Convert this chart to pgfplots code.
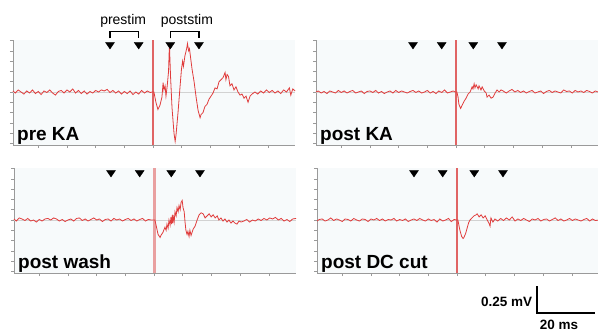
\documentclass[border=0pt]{standalone}
\usepackage{pgfplots}
\pgfplotsset{compat=1.18}
\usepackage{fontspec}
\setmainfont{Liberation Sans}
\definecolor{bgc}{HTML}{F7FAFB}
\definecolor{trc}{HTML}{E03C3C}
\definecolor{artc}{HTML}{E06464}
\definecolor{artp}{HTML}{E9A0A0}
\definecolor{axc}{HTML}{9A9A9A}
\tikzset{lab/.style={anchor=base west, inner sep=0pt, font=\fontsize{19}{20}\selectfont\bfseries}}
\pgfplotsset{
  axis base/.style={
    scale only axis, width=282.1pt, height=105pt,
    xmin=-48.8, xmax=49.5, ymin=-0.515, ymax=0.505,
    axis lines*=left, axis line style={draw=axc, line width=0.7pt, -},
    xtick={-40,-30,-20,-10,0,10,20,30,40},
    ytick={-0.5,-0.4,-0.3,-0.2,-0.1,0,0.1,0.2,0.3,0.4,0.5},
    xticklabels={}, yticklabels={},
    tick align=outside, major tick length=3pt,
    tick style={draw=axc, line width=0.6pt},
    axis background/.style={fill=bgc},
    clip=false, anchor=south west,
  },
  tri/.style={only marks, mark=triangle*, mark size=4.3pt,
    mark options={rotate=180, xscale=1.2, fill=black, draw=black}},
  zl/.style={gray!35, line width=0.5pt},
  tr/.style={trc, line width=0.8pt},
}
\begin{document}
\begin{tikzpicture}[x=1pt,y=1pt]
\path[use as bounding box] (0,0) rectangle (598,-333);
% ---------------- pre KA
\begin{axis}[axis base, at={(13pt,-145pt)}]
\addplot[zl] coordinates {(-48.8,0) (49.5,0)};
\addplot[artc, line width=2pt] coordinates {(0,-0.515) (0,0.505)};
\addplot[tr] coordinates {
(-48.8,0.01) (-48,-0.01) (-47,0.02) (-46,0.0) (-45,-0.02) (-44,0.01) (-43,-0.01) (-42,0.02) (-41,-0.015) (-40,0.005)
(-39,-0.025) (-38,0.01) (-37,-0.005) (-36,0.02) (-35,-0.01) (-34,-0.03) (-33,0.005) (-32,0.015) (-31,-0.01) (-30,0.02)
(-29,0.0) (-28,0.03) (-27,-0.01) (-26,0.015) (-25,-0.015) (-24,0.01) (-23,-0.02) (-22,0.005) (-21,-0.01) (-20,0.015)
(-19,0.0) (-18,0.02) (-17,0.01) (-16,0.025) (-15,-0.005) (-14,0.015) (-13,-0.01) (-12,0.01) (-11,-0.02) (-10,0.005)
(-9,-0.015) (-8,0.01) (-7,-0.025) (-6,0.0) (-5,-0.02) (-4,0.015) (-3,-0.01) (-2,0.01) (-1,-0.005) (-0.3,0.0)
(0.3,0.0) (1.0,-0.1) (1.7,-0.17) (2.4,-0.13) (3.1,-0.05) (3.5,0.09) (3.8,0.02) (4.2,0.06) (4.5,-0.04) (4.9,0.05)
(5.4,0.2) (5.7,0.46) (6.1,0.15) (6.6,-0.15) (7.3,-0.4) (7.7,-0.48) (8.0,-0.42) (8.7,-0.2) (9.4,0.05) (9.9,0.22)
(10.3,0.3) (10.6,0.25) (11.1,0.35) (11.7,0.42) (12.0,0.47) (12.4,0.4) (12.7,0.42) (13.1,0.33) (13.6,0.22) (14.3,0.1)
(15.0,-0.05) (15.7,-0.18) (16.4,-0.25) (16.7,-0.22) (17.4,-0.2) (18.1,-0.14) (18.8,-0.12) (19.5,-0.07) (20.2,-0.04) (20.9,-0.01)
(21.6,0.04) (22.3,0.03) (23.0,0.1) (23.7,0.12) (24.4,0.14) (25.1,0.19) (25.4,0.12) (25.8,0.17) (26.3,0.15) (26.8,0.06)
(27.5,0.08) (28.2,0.02) (28.9,0.05) (29.6,0.0) (30.3,-0.03) (31.0,-0.02) (31.7,-0.06) (32.4,-0.04) (33.1,-0.1) (33.8,-0.04)
(34.5,-0.02) (35.5,0.0) (36.5,-0.02) (37.5,0.01) (38.5,-0.01) (39.5,0.02) (40.5,-0.005) (41.5,0.015) (42.5,-0.01) (43.5,0.01)
(44.5,-0.015) (45.5,0.02) (46.5,0.0) (47.5,0.04) (48,-0.03) (48.7,0.03) (49.5,0.01)};
\addplot[tri] coordinates {(-15,0.46) (-5,0.46) (6,0.46) (16,0.46)};
\draw[black, line width=1.4pt] (axis cs:-15,0.52) -- (axis cs:-15,0.59) -- (axis cs:-5,0.59) -- (axis cs:-5,0.52);
\draw[black, line width=1.4pt] (axis cs:6,0.52) -- (axis cs:6,0.59) -- (axis cs:16,0.59) -- (axis cs:16,0.52);
\node[font=\fontsize{14}{14}\selectfont] at (axis cs:-10.4,0.69) {prestim};
\node[font=\fontsize{14}{14}\selectfont] at (axis cs:11.8,0.69) {poststim};
\node[lab] at (rel axis cs:0.014,0.04) {pre KA};
\end{axis}
% ---------------- post KA
\begin{axis}[axis base, at={(316pt,-145pt)}]
\addplot[zl] coordinates {(-48.8,0) (49.5,0)};
\addplot[artc, line width=1.3pt] coordinates {(0,-0.515) (0,0.505)};
\addplot[tr] coordinates {
(-48.8,0.0) (-48,0.01) (-47,-0.01) (-46,0.005) (-45,-0.015) (-44,0.01) (-43,0.0) (-42,-0.01) (-41,0.015) (-40,-0.005)
(-39,0.01) (-38,-0.01) (-37,0.005) (-36,0.015) (-35,-0.01) (-34,0.0) (-33,0.01) (-32,-0.015) (-31,0.005) (-30,0.01)
(-29,-0.005) (-28,0.015) (-27,-0.01) (-26,0.005) (-25,-0.015) (-24,0.0) (-23,0.01) (-22,-0.01) (-21,0.015) (-20,-0.005)
(-19,0.01) (-18,0.0) (-17,-0.01) (-16,0.005) (-15,0.015) (-14,-0.005) (-13,0.01) (-12,-0.01) (-11,0.0) (-10,0.015)
(-9,-0.01) (-8,0.005) (-7,-0.015) (-6,0.01) (-5,-0.005) (-4,0.02) (-3,-0.01) (-2,0.0) (-1,0.01) (-0.3,0.0)
(0.3,0.0) (0.7,-0.05) (1.0,-0.12) (1.6,-0.16) (2.1,-0.13) (2.8,-0.09) (3.5,-0.06) (4.2,-0.02) (4.9,0.0) (5.6,0.05)
(5.9,0.03) (6.3,0.08) (6.6,0.04) (7.0,0.07) (7.7,0.03) (8.0,0.06) (8.7,0.02) (9.1,0.05) (9.8,0.01) (10.5,-0.01)
(10.8,-0.05) (11.5,-0.03) (12.2,-0.06) (12.9,-0.05) (13.6,-0.01) (14.3,0.02) (15.0,0.0) (15.7,0.02) (16.4,0.01)
(17.5,-0.01) (18.5,0.01) (19.5,0.025) (20.5,0.0) (21.5,0.015) (22.5,-0.005) (23.5,0.01) (24.5,-0.01) (25.5,0.005) (26.5,0.015)
(27.5,-0.01) (28.5,0.0) (29.5,0.01) (30.5,-0.015) (31.5,0.005) (32.5,0.015) (33.5,-0.005) (34.5,0.01) (35.5,0.0) (36.5,-0.01)
(37.5,0.02) (38.5,0.005) (39.5,0.01) (40.5,-0.01) (41.5,0.015) (42.5,0.0) (43.5,0.01) (44.5,-0.005) (45.5,0.015) (46.5,0.005)
(47.5,-0.01) (48.5,0.01) (49.5,0.0)};
\addplot[tri] coordinates {(-15,0.46) (-5,0.46) (6,0.46) (16,0.46)};
\node[lab] at (rel axis cs:0.014,0.04) {post KA};
\end{axis}
% ---------------- post wash
\begin{axis}[axis base, at={(14pt,-273pt)}]
\addplot[zl] coordinates {(-48.8,0) (49.5,0)};
\addplot[artp, line width=3pt] coordinates {(0,-0.515) (0,0.505)};
\addplot[tr] coordinates {
(-48.8,0.01) (-48,-0.01) (-47,0.02) (-46,0.01) (-45,-0.005) (-44,0.015) (-43,-0.01) (-42,0.0) (-41,-0.02) (-40,0.005)
(-39,-0.01) (-38,0.01) (-37,0.015) (-36,0.0) (-35,0.02) (-34,0.01) (-33,-0.01) (-32,0.005) (-31,-0.015) (-30,0.0)
(-29,0.01) (-28,-0.01) (-27,0.015) (-26,0.02) (-25,-0.005) (-24,0.01) (-23,-0.01) (-22,0.005) (-21,0.02) (-20,0.0)
(-19,0.01) (-18,-0.015) (-17,0.005) (-16,0.01) (-15,-0.01) (-14,0.015) (-13,0.0) (-12,0.01) (-11,-0.01) (-10,0.005)
(-9,0.015) (-8,-0.005) (-7,0.01) (-6,-0.01) (-5,0.005) (-4,0.015) (-3,-0.01) (-2,0.005) (-1,0.0) (-0.3,0.0)
(0.3,0.0) (0.7,-0.05) (1.4,-0.14) (2.1,-0.17) (2.4,-0.15) (3.1,-0.12) (3.8,-0.07) (4.2,-0.1) (4.5,-0.04) (4.9,-0.08)
(5.2,0.0) (5.6,-0.05) (5.9,0.03) (6.1,-0.04) (6.3,0.02) (6.5,-0.03) (6.6,0.05) (7.0,-0.02) (7.3,0.08) (7.7,0.04)
(8.0,0.12) (8.4,0.08) (8.7,0.14) (9.1,0.1) (9.4,0.17) (9.8,0.19) (10.1,0.12) (10.5,0.08) (10.8,-0.02) (11.1,-0.1)
(11.5,-0.14) (11.8,-0.11) (12.2,-0.16) (12.5,-0.1) (12.9,-0.15) (13.6,-0.09) (14.3,-0.06) (15.0,0.0) (15.7,0.05) (16.4,0.07)
(17.1,0.06) (17.8,0.02) (18.5,0.04) (19.2,0.06) (19.9,0.03) (20.6,0.05) (21.3,0.02) (22.0,0.04) (22.6,0.0) (23.3,0.02)
(24.0,-0.01) (24.7,0.01) (25.4,-0.02) (26.1,0.0) (26.8,-0.03) (27.5,-0.01) (28.2,-0.03) (28.9,-0.04) (29.6,-0.01) (30.3,-0.02)
(31.3,-0.01) (32.3,0.005) (33.3,-0.02) (34.3,0.0) (35.3,-0.01) (36.3,0.01) (37.3,-0.005) (38.3,0.015) (39.3,0.0) (40.3,0.02)
(41.3,0.01) (42.3,0.025) (43.3,0.0) (44.3,0.015) (45.3,-0.01) (46.3,0.005) (47.3,-0.015) (48.3,0.01) (49.5,0.015)};
\addplot[tri] coordinates {(-15,0.46) (-5,0.46) (6,0.46) (16,0.46)};
\node[lab] at (rel axis cs:0.014,0.04) {post wash};
\end{axis}
% ---------------- post DC cut
\begin{axis}[axis base, at={(317pt,-273pt)}]
\addplot[zl] coordinates {(-48.8,0) (49.5,0)};
\addplot[artc, line width=1.3pt] coordinates {(0,-0.515) (0,0.505)};
\addplot[tr] coordinates {
(-48.8,-0.01) (-48,0.005) (-47,0.01) (-46,-0.01) (-45,0.0) (-44,0.02) (-43,-0.005) (-42,0.01) (-41,0.0) (-40,-0.015)
(-39,0.01) (-38,0.005) (-37,-0.01) (-36,0.015) (-35,0.0) (-34,-0.01) (-33,0.01) (-32,0.005) (-31,-0.015) (-30,0.01)
(-29,0.0) (-28,0.015) (-27,-0.005) (-26,0.01) (-25,-0.01) (-24,0.005) (-23,0.0) (-22,0.015) (-21,-0.01) (-20,0.005)
(-19,-0.005) (-18,0.01) (-17,-0.015) (-16,0.0) (-15,0.01) (-14,-0.005) (-13,0.015) (-12,0.0) (-11,-0.01) (-10,0.01)
(-9,-0.005) (-8,0.005) (-7,-0.02) (-6,0.01) (-5,-0.01) (-4,0.0) (-3,0.015) (-2,-0.015) (-1,0.005) (-0.3,0.0)
(0.3,0.0) (0.7,-0.06) (1.0,-0.1) (1.6,-0.16) (2.1,-0.18) (2.4,-0.17) (3.0,-0.13) (3.5,-0.08) (4.0,-0.03) (4.5,0.0)
(5.2,0.02) (5.9,0.04) (6.6,0.05) (7.0,0.06) (7.7,0.03) (8.4,0.05) (9.1,0.02) (9.8,0.04) (10.5,0.0) (11.1,-0.03)
(11.5,-0.06) (11.8,0.02) (12.5,-0.02) (13.2,0.01)
(14.2,-0.01) (15.2,0.015) (16.2,-0.005) (17.2,0.02) (18.2,0.0) (19.2,0.03) (20.2,-0.01) (21.2,0.01) (22.2,-0.005) (23.2,0.015)
(24.2,0.0) (25.2,-0.015) (26.2,0.01) (27.2,0.0) (28.2,0.015) (29.2,-0.01) (30.2,0.005) (31.2,0.01) (32.2,-0.01) (33.2,0.005)
(34.2,0.02) (35.2,-0.005) (36.2,0.01) (37.2,-0.01) (38.2,0.0) (39.2,0.015) (40.2,-0.005) (41.2,0.01) (42.2,0.0) (43.2,-0.01)
(44.2,0.005) (45.2,0.015) (46.2,-0.01) (47.2,0.01) (48.2,-0.005) (49.5,0.0)};
\addplot[tri] coordinates {(-15,0.46) (-5,0.46) (6,0.46) (16,0.46)};
\node[lab] at (rel axis cs:0.014,0.04) {post DC cut};
% scale bar
\draw[black, line width=1.8pt, line cap=rect] (axis cs:27.9,-0.65) -- (axis cs:27.9,-0.90) -- (axis cs:47.9,-0.90);
\node[anchor=east, font=\fontsize{13.5}{14}\selectfont\bfseries, inner sep=1pt] at (axis cs:26.6,-0.80) {0.25 mV};
\node[font=\fontsize{13.5}{14}\selectfont\bfseries] at (axis cs:35.5,-1.02) {20 ms};
\end{axis}
\end{tikzpicture}
\end{document}
